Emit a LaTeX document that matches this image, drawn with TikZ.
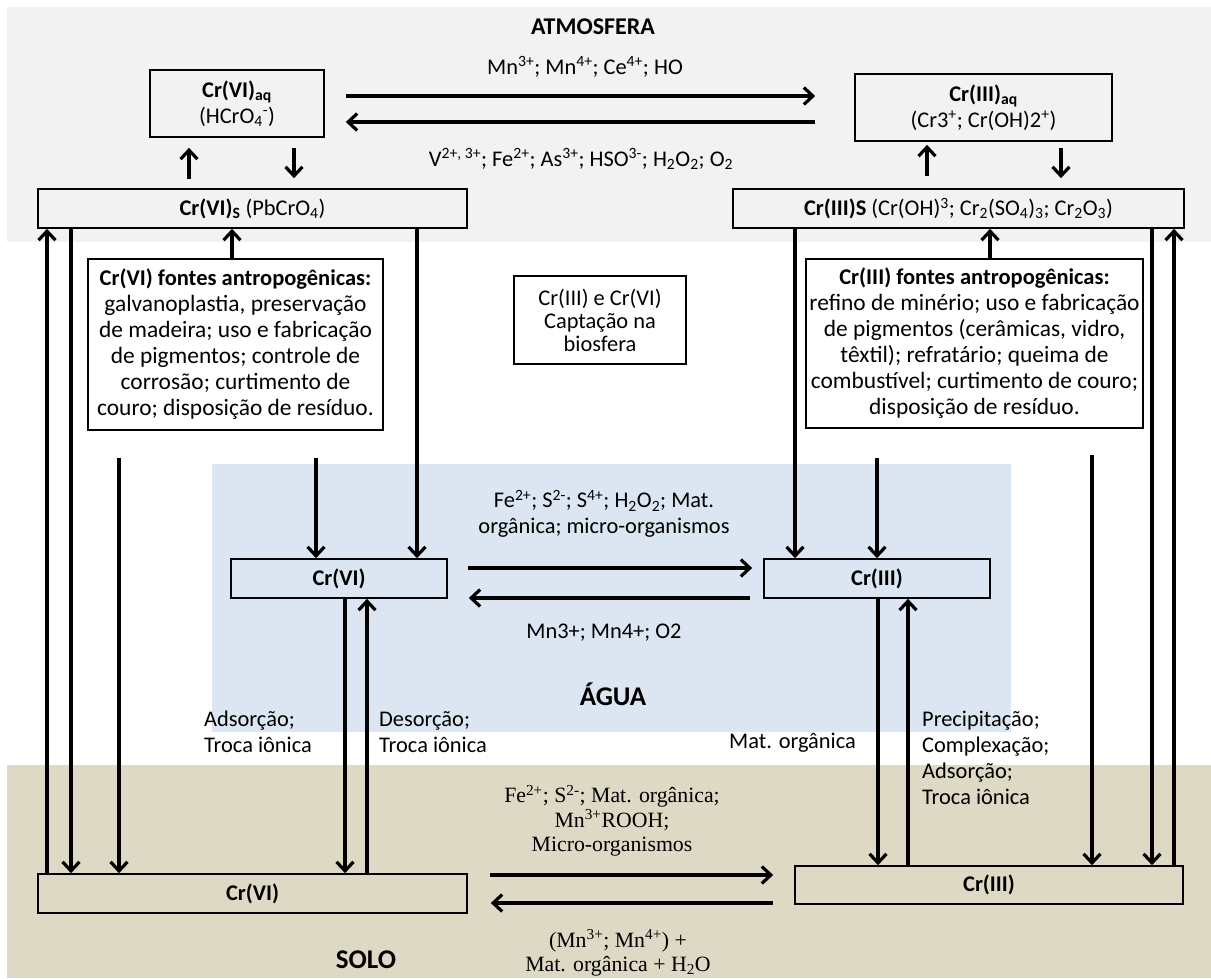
\documentclass[tikz,border=0pt]{standalone}
\usepackage{fontspec}
\setmainfont{Carlito}
\newfontfamily\tms{Liberation Serif}
\usetikzlibrary{arrows.meta,calc}
\definecolor{atmgray}{HTML}{F2F2F2}
\definecolor{waterblue}{HTML}{DCE6F2}
\definecolor{soiltan}{HTML}{DDD9C4}
\newcommand{\fsz}[2]{\fontsize{#1}{#2}\selectfont}
\begin{document}
\begin{tikzpicture}[x=1pt,y=-1pt,
  box/.style={draw, line width=1.7pt, inner sep=0pt, align=center, font=\fsz{22.4pt}{26pt}},
  srcbox/.style={draw, line width=1.7pt, inner sep=0pt, align=center, font=\fsz{23.4pt}{26pt}},
  lbl/.style={inner sep=0pt, align=center, font=\fsz{22.4pt}{26pt}},
  lbll/.style={inner sep=0pt, align=left, anchor=west, font=\fsz{22.4pt}{25.8pt}},
  tlbl/.style={inner sep=0pt, align=center, font=\tms\fsz{21.8pt}{24.5pt}},
  ttl/.style={inner sep=0pt, font=\bfseries\fsz{24pt}{28pt}},
  arr/.style={line width=3.2pt, -{Straight Barb[length=9pt,width=17pt]}}]
\useasboundingbox (0,0) rectangle (1211,978);
% backgrounds
\fill[atmgray] (7,7) rectangle (1211,242);
\fill[waterblue] (212,464) rectangle (1011,732);
\fill[soiltan] (7,765) rectangle (1211,978);
% column / row coordinates
\foreach \c in {47,71,119,189,232,294,316,345,367,417,795,877,878,908,927,990,1061,1092,1152,1174}
  {\coordinate (c\c) at (\c,0);}
\foreach \r in {96,122,568,598,875,903}
  {\coordinate (y\r) at (0,\r);}
% titles
\node[ttl] (atm) at (593,27) {ATMOSFERA};
\node[ttl, font=\bfseries\fsz{27pt}{30pt}] (agua) at (613,694) {ÁGUA};
\node[ttl, font=\bfseries\fsz{27pt}{30pt}] (solo) at (366,960) {SOLO};
% boxes
\node[box, minimum width=174, minimum height=67] (aq6) at (237,103.5)
  {\textbf{Cr(VI)\textsubscript{aq}}\\(HCrO\textsubscript{4}\textsuperscript{-})};
\node[box, minimum width=257, minimum height=67] (aq3) at (983.5,107.5)
  {\textbf{Cr(III)\textsubscript{aq}}\\(Cr3\textsuperscript{+}; Cr(OH)2\textsuperscript{+})};
\node[box, minimum width=429, minimum height=39] (s6) at (252.5,208.5)
  {\textbf{Cr(VI)\textsubscript{S}} (PbCrO\textsubscript{4})};
\node[box, minimum width=451, minimum height=39] (s3) at (958.5,208.5)
  {\textbf{Cr(III)S} (Cr(OH)\textsuperscript{3}; Cr\textsubscript{2}(SO\textsubscript{4})\textsubscript{3}; Cr\textsubscript{2}O\textsubscript{3})};
\node[srcbox, minimum width=295, minimum height=171] (f6) at (235.5,344.5)
  {{\bfseries\fsz{22.5pt}{26pt}Cr(VI) fontes antropogênicas:}\\galvanoplastia, preservação\\de madeira; uso e fabricação\\de pigmentos; controle de\\corrosão; curtimento de\\couro; disposição de resíduo.};
\node[srcbox, minimum width=337, minimum height=169] (f3) at (974.5,343.5)
  {{\bfseries\fsz{22.5pt}{26pt}Cr(III) fontes antropogênicas:}\\refino de minério; uso e fabricação\\de pigmentos (cerâmicas, vidro,\\têxtil); refratário; queima de\\combustível; curtimento de couro;\\disposição de resíduo.};
\node[box, font=\fsz{22.4pt}{23pt}, minimum width=172, minimum height=88] (cap) at (600,320)
  {Cr(III) e Cr(VI)\\Captação na\\biosfera};
\node[box, minimum width=216, minimum height=39] (w6) at (339,578.5) {\textbf{Cr(VI)}};
\node[box, minimum width=226, minimum height=39] (w3) at (877,578.5) {\textbf{Cr(III)}};
\node[box, minimum width=429, minimum height=39] (so6) at (252.5,893.5) {\textbf{Cr(VI)}};
\node[box, minimum width=388, minimum height=38] (so3) at (989,885) {\textbf{Cr(III)}};
% labels
\node[lbl] (lA1) at (585,67) {Mn\textsuperscript{3+}; Mn\textsuperscript{4+}; Ce\textsuperscript{4+}; HO};
\node[lbl] (lA2) at (581,159) {V\textsuperscript{2+, 3+}; Fe\textsuperscript{2+}; As\textsuperscript{3+}; HSO\textsuperscript{3-}; H\textsubscript{2}O\textsubscript{2}; O\textsubscript{2}};
\node[lbl] (lW1) at (604,514) {Fe\textsuperscript{2+}; S\textsuperscript{2-}; S\textsuperscript{4+}; H\textsubscript{2}O\textsubscript{2}; Mat.\\orgânica; micro-organismos};
\node[lbl] (lW2) at (604,633) {Mn3+; Mn4+; O2};
\node[lbll] (lAd) at (204,732) {Adsorção;\\Troca iônica};
\node[lbll] (lDe) at (379,732) {Desorção;\\Troca iônica};
\node[lbll] (lMo) at (729,743) {Mat. orgânica};
\node[lbll] (lPr) at (922,758) {Precipitação;\\Complexação;\\Adsorção;\\Troca iônica};
\node[tlbl] (lS1) at (612,821) {Fe\textsuperscript{2+}; S\textsuperscript{2-}; Mat. orgânica;\\Mn\textsuperscript{3+}ROOH;\\Micro-organismos};
\node[tlbl] (lS2) at (618,953) {(Mn\textsuperscript{3+}; Mn\textsuperscript{4+}) +\\Mat. orgânica + H\textsubscript{2}O};
% atmosphere connectors
\draw[arr, shorten <=21pt, shorten >=39pt] (aq6.east |- y96) -- (aq3.west |- y96);
\draw[arr, shorten <=39pt, shorten >=21pt] (aq3.west |- y122) -- (aq6.east |- y122);
\draw[arr, shorten <=9pt, shorten >=10pt] (s6.north -| c189) -- (aq6.south -| c189);
\draw[arr, shorten <=10pt, shorten >=10pt] (aq6.south -| c294) -- (s6.north -| c294);
\draw[arr, shorten <=12pt, shorten >=3pt] (s3.north -| c927) -- (aq3.south -| c927);
\draw[arr, shorten <=6pt, shorten >=10pt] (aq3.south -| c1061) -- (s3.north -| c1061);
% left column connectors
\draw[arr] (so6.north -| c47) -- (s6.south -| c47);
\draw[arr] (s6.south -| c71) -- (so6.north -| c71);
\draw[arr, shorten <=27pt] (f6.south -| c119) -- (so6.north -| c119);
\draw[arr] (f6.north -| c232) -- (s6.south -| c232);
\draw[arr, shorten <=27pt] (f6.south -| c316) -- (w6.north -| c316);
\draw[arr] (s6.south -| c417) -- (w6.north -| c417);
\draw[arr] (w6.south -| c345) -- (so6.north -| c345);
\draw[arr] (so6.north -| c367) -- (w6.south -| c367);
% right column connectors
\draw[arr] (s3.south -| c795) -- (w3.north -| c795);
\draw[arr, shorten <=29pt] (f3.south -| c877) -- (w3.north -| c877);
\draw[arr] (f3.north -| c990) -- (s3.south -| c990);
\draw[arr] (w3.south -| c878) -- (so3.north -| c878);
\draw[arr] (so3.north -| c908) -- (w3.south -| c908);
\draw[arr, shorten <=26pt] (f3.south -| c1092) -- (so3.north -| c1092);
\draw[arr] (s3.south -| c1152) -- (so3.north -| c1152);
\draw[arr] (so3.north -| c1174) -- (s3.south -| c1174);
% water connectors
\draw[arr, shorten <=20pt, shorten >=11pt] (w6.east |- y568) -- (w3.west |- y568);
\draw[arr, shorten <=13pt, shorten >=21pt] (w3.west |- y598) -- (w6.east |- y598);
% soil connectors
\draw[arr, shorten <=22pt, shorten >=21pt] (so6.east |- y875) -- (so3.west |- y875);
\draw[arr, shorten <=21pt, shorten >=23pt] (so3.west |- y903) -- (so6.east |- y903);
\end{tikzpicture}
\end{document}
